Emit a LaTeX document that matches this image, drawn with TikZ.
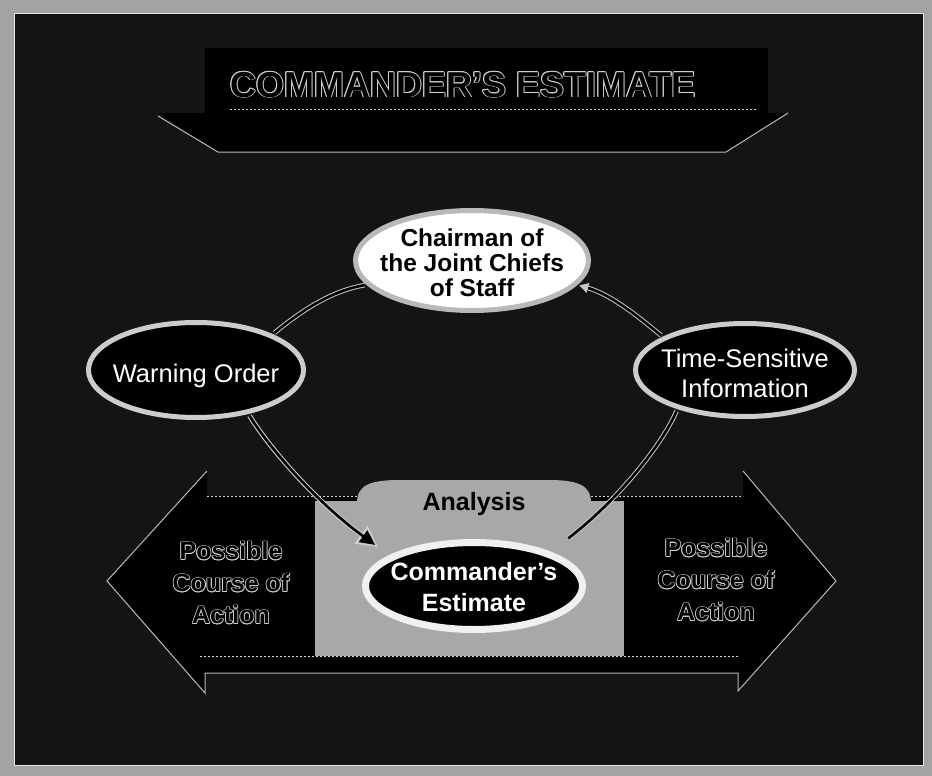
\documentclass[tikz,border=0pt]{standalone}
\usepackage{tikz}
\usepackage{fontspec}
\setmainfont{Liberation Sans}
\usetikzlibrary{arrows.meta,shapes.geometric}
\colorlet{olc}{gray!35}
\colorlet{bordergray}{gray!72}
\colorlet{bgdark}{black!92}
\colorlet{boxgray}{gray!68}
\newlength\olw
\setlength\olw{0.8pt}
\newcommand\hol[1]{\leavevmode\setbox0=\hbox{#1}%
\rlap{\color{olc}\kern\olw\copy0}%
\rlap{\color{olc}\kern-\olw\copy0}%
\rlap{\color{olc}\raise\olw\copy0}%
\rlap{\color{olc}\lower\olw\copy0}%
\rlap{\color{olc}\kern.7\olw\raise.7\olw\copy0}%
\rlap{\color{olc}\kern-.7\olw\raise.7\olw\copy0}%
\rlap{\color{olc}\kern.7\olw\lower.7\olw\copy0}%
\rlap{\color{olc}\kern-.7\olw\lower.7\olw\copy0}%
{\color{black}\copy0}}
\begin{document}
\begin{tikzpicture}[x=1pt,y=-1pt,
  ring/.style={ellipse, inner sep=0pt, line width=5pt},
  dconn/.style={draw=gray!45, line width=1pt, double=black, double distance=2.6pt},
  outerarrow/.style={draw=gray!40, line width=4.8pt, -{Triangle[length=21pt,width=21pt]}},
  innerarrow/.style={draw=black, line width=2.6pt, -{Triangle[length=15pt,width=14pt]}},
  lbl/.style={align=center, inner sep=0pt},
  whitetxt/.style={text=white, font=\fontsize{25.5}{30}\selectfont},
  pca/.style={lbl, font=\fontsize{25}{32}\selectfont\bfseries}]
\useasboundingbox (0,0) rectangle (932,776);
\fill[bordergray] (0,0) rectangle (932,776);
\fill[bgdark] (14,13) rectangle (923,765);
\draw[white!80!gray, line width=0.8pt] (14,13) rectangle (923,765);
% title banner
\fill[black] (205,48) rectangle (768,113);
\fill[black] (158,113) -- (788,113) -- (726,152) -- (218,152) -- cycle;
\draw[gray!55, line width=1pt] (158,116) -- (218,152) -- (726,152) -- (788,113);
\draw[gray!35, line width=.6pt, dash pattern=on 2pt off 2pt] (230,109) -- (756,109);
\node[inner sep=0pt, anchor=base, font=\fontsize{36}{40}\selectfont\bfseries] (title) at (463,97) {\hol{COMMANDER'S ESTIMATE}};
% big double arrow
\fill[black] (107,581) -- (207,471) -- (207,496) -- (743,496) -- (743,471) -- (836,581) -- (738,691) -- (738,673) -- (205,673) -- (205,693) -- cycle;
\draw[gray!55, line width=1pt] (207,471) -- (107,581) -- (205,693) -- (205,673) -- (738,673) -- (738,691) -- (836,581) -- (743,471);
\draw[gray!30, line width=.6pt, dash pattern=on 2pt off 2pt] (207,496) -- (743,496) (200,656) -- (738,656);
\node[pca] (pcaL) at (231,583) {\hol{Possible}\\\hol{Course of}\\\hol{Action}};
\node[pca] (pcaR) at (716,580) {\hol{Possible}\\\hol{Course of}\\\hol{Action}};
% analysis box
\fill[boxgray] (315,501) rectangle (624,656);
\fill[boxgray] (357,503) .. controls (357,485) and (370,480) .. (400,480) -- (548,480) .. controls (578,480) and (591,485) .. (591,503) -- cycle;
\node[inner sep=0pt, anchor=base, font=\fontsize{25}{28}\selectfont\bfseries] (an) at (474,510) {Analysis};
% ellipses
\node[ring, draw=gray!55, fill=white, minimum width=233, minimum height=100] (ch) at (472,260.5) {};
\node[lbl, font=\fontsize{24.5}{25}\selectfont\bfseries] (chT) at (472,263) {Chairman of\\the Joint Chiefs\\of Staff};
\node[ring, draw=gray!40, fill=black, minimum width=215, minimum height=95] (wo) at (196,370) {};
\node[whitetxt, inner sep=0pt, anchor=base] (woT) at (196,382) {Warning Order};
\node[ring, draw=gray!40, fill=black, minimum width=219, minimum height=93] (ts) at (745,370) {};
\node[lbl, whitetxt] (tsT) at (745,373) {Time-Sensitive\\Information};
\node[ring, draw=white!88!gray, line width=7pt, fill=black, minimum width=217, minimum height=87] (ce) at (474,586) {};
\node[lbl, text=white, font=\fontsize{25}{31}\selectfont\bfseries] (ceT) at (474,587) {Commander's\\Estimate};
% connectors
\draw[dconn, shorten <=2pt, shorten >=2pt] (wo.25) .. controls (300,312) and (330,291) .. (ch.193);
\draw[dconn, -{Triangle[length=9pt,width=10pt]}, shorten <=2pt, shorten >=2pt] (ts.158) .. controls (640,318) and (612,295) .. (ch.-13);
\draw[outerarrow, shorten <=2pt, shorten >=14pt] (wo.-40) .. controls (272,452) and (320,505) .. (ce.160);
\draw[innerarrow, shorten <=2pt, shorten >=17.5pt] (wo.-40) .. controls (272,452) and (320,505) .. (ce.160);
\draw[dconn, shorten <=2pt, shorten >=22pt] (ts.210) .. controls (662,445) and (618,500) .. (ce.24);
\end{tikzpicture}
\end{document}
